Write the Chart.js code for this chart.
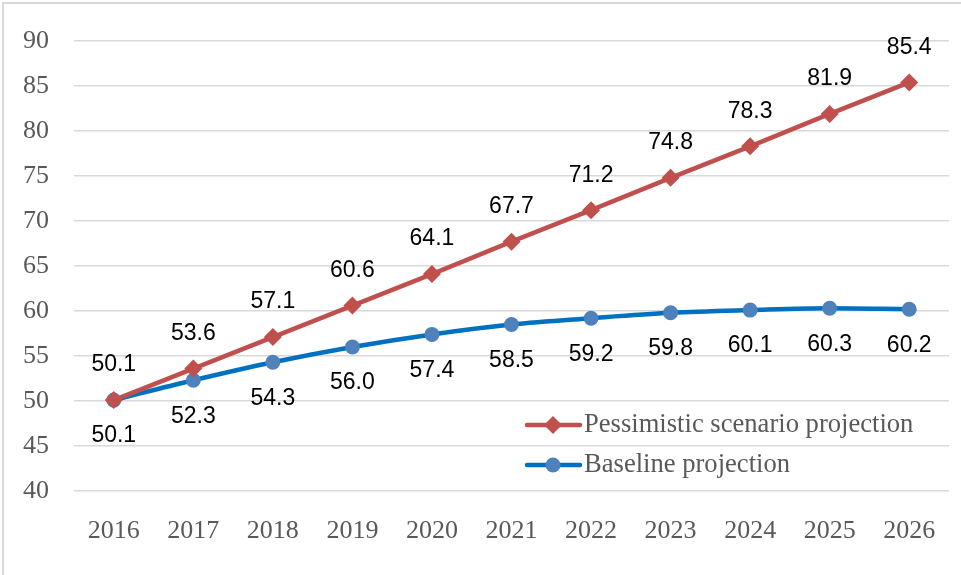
<!DOCTYPE html>
<html>
<head>
<meta charset="utf-8">
<script src="https://cdn.jsdelivr.net/npm/chart.js@4"></script>
<style>
html,body{margin:0;padding:0;background:#fff;}
#wrap{width:961px;height:575px;position:relative;}
</style>
</head>
<body>
<div id="wrap"><canvas id="c" width="961" height="575"></canvas></div>
<script>
const years = ['2016','2017','2018','2019','2020','2021','2022','2023','2024','2025','2026'];
const pessimistic = [50.1, 53.6, 57.1, 60.6, 64.1, 67.7, 71.2, 74.8, 78.3, 81.9, 85.4];
const baseline = [50.1, 52.3, 54.3, 56.0, 57.4, 58.5, 59.2, 59.8, 60.1, 60.3, 60.2];
const seriesNames = ['Pessimistic scenario projection', 'Baseline projection'];

const serif = '"Liberation Serif", "Times New Roman", serif';
const sans = '"Liberation Sans", Arial, sans-serif';

const frame = {
  id: 'frame',
  beforeDraw(chart) {
    const ctx = chart.ctx;
    ctx.save();
    ctx.fillStyle = '#fff';
    ctx.fillRect(0, 0, chart.width, chart.height);
    ctx.strokeStyle = '#D9D9D9';
    ctx.lineWidth = 2;
    ctx.beginPath();
    ctx.moveTo(3, chart.height);
    ctx.lineTo(3, 3);
    ctx.lineTo(chart.width, 3);
    ctx.stroke();
    ctx.restore();
  }
};

const labels = {
  id: 'valueLabels',
  afterDatasetsDraw(chart) {
    const ctx = chart.ctx;
    ctx.save();
    ctx.font = '23px ' + sans;
    ctx.fillStyle = '#000';
    ctx.textAlign = 'center';
    ctx.textBaseline = 'middle';
    chart.data.datasets.forEach((ds, i) => {
      const meta = chart.getDatasetMeta(i);
      meta.data.forEach((pt, j) => {
        const v = ds.data[j].toFixed(1);
        const dy = i === 0 ? -35 : 36;
        ctx.fillText(v, pt.x, pt.y + dy);
      });
    });
    ctx.restore();
  }
};

const legend = {
  id: 'customLegend',
  afterDraw(chart) {
    const ctx = chart.ctx;
    ctx.save();
    const items = [
      {name: seriesNames[0], line: '#C0504D', fill: '#C0504D', shape: 'diamond', yv: 425},
      {name: seriesNames[1], line: '#0070C0', fill: '#4F81BD', shape: 'circle', yv: 465}
    ];
    items.forEach(it => {
      const yy = it.yv;
      ctx.strokeStyle = it.line;
      ctx.lineWidth = 4.5;
      ctx.lineCap = 'round';
      ctx.beginPath();
      ctx.moveTo(527, yy);
      ctx.lineTo(580, yy);
      ctx.stroke();
      ctx.fillStyle = it.fill;
      ctx.beginPath();
      if (it.shape === 'diamond') {
        ctx.moveTo(553, yy - 9); ctx.lineTo(562, yy); ctx.lineTo(553, yy + 9); ctx.lineTo(544, yy);
        ctx.closePath();
      } else {
        ctx.arc(553, yy, 7.5, 0, Math.PI * 2);
      }
      ctx.fill();
      ctx.fillStyle = '#595959';
      ctx.font = '26.6px ' + serif;
      ctx.textAlign = 'left';
      ctx.textBaseline = 'middle';
      ctx.fillText(it.name, 584, yy);
    });
    ctx.restore();
  }
};

new Chart(document.getElementById('c'), {
  type: 'line',
  data: {
    labels: years,
    datasets: [
      {
        label: seriesNames[0],
        data: pessimistic,
        borderColor: '#C0504D',
        backgroundColor: '#C0504D',
        borderWidth: 4.5,
        pointStyle: 'rectRot',
        pointRadius: 9,
        pointBorderWidth: 0,
        tension: 0
      },
      {
        label: seriesNames[1],
        data: baseline,
        borderColor: '#0070C0',
        backgroundColor: '#4F81BD',
        pointBackgroundColor: '#4F81BD',
        pointBorderColor: '#4F81BD',
        borderWidth: 4.5,
        pointStyle: 'circle',
        pointRadius: 7.5,
        pointBorderWidth: 0,
        cubicInterpolationMode: 'monotone'
      }
    ]
  },
  options: {
    responsive: false,
    animation: false,
    layout: {padding: {left: 0, right: 12, top: 41, bottom: 0}},
    plugins: {legend: {display: false}, tooltip: {enabled: false}},
    scales: {
      x: {
        offset: true,
        grid: {display: false, drawTicks: false},
        border: {display: false},
        ticks: {color: '#595959', font: {family: serif, size: 26}, padding: 25, maxRotation: 0, autoSkip: false},
        afterFit(s) { s.height = 84; }
      },
      y: {
        min: 40, max: 90,
        grid: {color: '#D9D9D9', lineWidth: 1.5, drawTicks: false},
        border: {display: false},
        ticks: {stepSize: 5, color: '#595959', font: {family: serif, size: 26}, padding: 25},
        afterFit(s) { s.width = 74; }
      }
    }
  },
  plugins: [frame, labels, legend]
});
</script>
</body>
</html>
